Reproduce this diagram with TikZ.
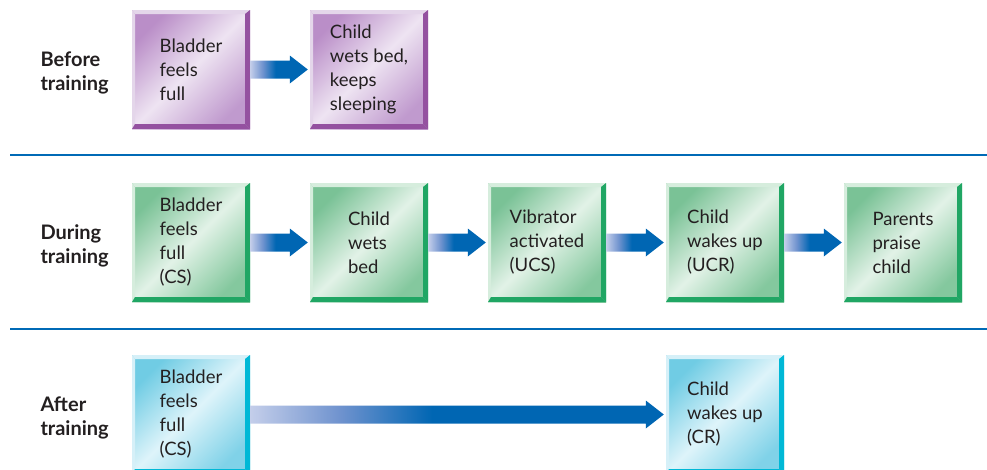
\documentclass[tikz,border=0pt]{standalone}
\usepackage{fontspec}
\setmainfont{Lato}
\usetikzlibrary{calc}

% text and rule colours
\definecolor{ink}{RGB}{35,31,32}
\definecolor{ruleblue}{RGB}{0,106,182}
% arrow colours
\definecolor{fadestart}{RGB}{196,206,234}
\definecolor{fademid}{RGB}{110,146,206}
\definecolor{arrowblue}{RGB}{0,102,179}
% purple boxes
\definecolor{pA}{RGB}{186,142,200}
\definecolor{pM}{RGB}{238,228,242}
\definecolor{pC}{RGB}{192,154,206}
\definecolor{pL}{RGB}{228,214,234}
\definecolor{pD}{RGB}{148,81,160}
% green boxes
\definecolor{gA}{RGB}{122,194,150}
\definecolor{gM}{RGB}{226,242,231}
\definecolor{gC}{RGB}{132,200,158}
\definecolor{gL}{RGB}{214,237,221}
\definecolor{gD}{RGB}{32,166,100}
% cyan boxes
\definecolor{cA}{RGB}{112,204,228}
\definecolor{cM}{RGB}{222,244,250}
\definecolor{cC}{RGB}{128,210,232}
\definecolor{cL}{RGB}{214,240,248}
\definecolor{cD}{RGB}{0,184,214}

% arrow body: light at the tail, full blue from about the middle on
\pgfdeclarehorizontalshading{arrowfade}{100bp}{%
  color(0bp)=(fadestart); color(25bp)=(fadestart);
  color(36bp)=(fademid); color(47bp)=(arrowblue); color(100bp)=(arrowblue)}

% light top/left frame and dark bottom/right bevel of a box
\newcommand\bevelframe[2]{%
  \fill[#1] (path picture bounding box.north west)
    -- (path picture bounding box.north east)
    -- ([xshift=-5pt,yshift=-4pt]path picture bounding box.north east)
    -- ([xshift=3pt,yshift=-4pt]path picture bounding box.north west) -- cycle;
  \fill[#1] (path picture bounding box.north west)
    -- ([xshift=3pt,yshift=-4pt]path picture bounding box.north west)
    -- ([xshift=3pt,yshift=5pt]path picture bounding box.south west)
    -- (path picture bounding box.south west) -- cycle;
  \fill[#2] (path picture bounding box.north east)
    -- (path picture bounding box.south east)
    -- ([xshift=-5pt,yshift=5pt]path picture bounding box.south east)
    -- ([xshift=-5pt,yshift=-4pt]path picture bounding box.north east) -- cycle;
  \fill[#2] (path picture bounding box.south west)
    -- ([xshift=3pt,yshift=5pt]path picture bounding box.south west)
    -- ([xshift=-5pt,yshift=5pt]path picture bounding box.south east)
    -- (path picture bounding box.south east) -- cycle;
}

% block arrow from the right side of one box to the left side of the next
\newcommand\flowarrow[2]{%
  \shade[shading=arrowfade]
    ([yshift=9pt]#1.east) -- ([xshift=-20pt,yshift=9pt]#2.west)
    -- ([xshift=-20pt,yshift=14pt]#2.west) -- ([xshift=-2pt]#2.west)
    -- ([xshift=-20pt,yshift=-14pt]#2.west) -- ([xshift=-20pt,yshift=-9pt]#2.west)
    -- ([yshift=-9pt]#1.east) -- cycle;
}

\tikzset{
  stagebox/.style={minimum width=118pt, minimum height=119pt, inner sep=0pt,
    align=left, text=ink, font=\fontsize{18.5pt}{24pt}\selectfont},
  purplebox/.style={stagebox, left color=pA, right color=pC, middle color=pM,
    shading angle=45, path picture={\bevelframe{pL}{pD}}},
  greenbox/.style={stagebox, left color=gA, right color=gC, middle color=gM,
    shading angle=45, path picture={\bevelframe{gL}{gD}}},
  cyanbox/.style={stagebox, left color=cA, right color=cC, middle color=cM,
    shading angle=45, path picture={\bevelframe{cL}{cD}}},
  phase/.style={anchor=west, align=left, text=ink,
    font=\fontsize{20pt}{24pt}\selectfont\bfseries},
  sepline/.style={draw=ruleblue, line width=2pt}
}

\begin{document}
\begin{tikzpicture}[x=1pt, y=-1pt]
  \useasboundingbox (0,0) rectangle (987,469);

  % phase labels
  \node[phase] (lblbefore) at (37,73)  {Before\\training};
  \node[phase] (lblduring) at (37,246) {During\\training};
  \node[phase] (lblafter)  at (37,418) {After\\training};

  % separators
  \draw[sepline] (10,155) -- (987,155);
  \draw[sepline] (10,329) -- (987,329);

  % before training
  \node[purplebox] (b1) at (191,69.5) {Bladder\\feels\\full};
  \node[purplebox] (b2) at (369,69.5) {Child\\wets bed,\\keeps\\sleeping};
  \flowarrow{b1}{b2}

  % during training
  \node[greenbox] (d1) at (191,242.5) {Bladder\\feels\\full\\(CS)};
  \node[greenbox] (d2) at (369,242.5) {Child\\wets\\bed};
  \node[greenbox] (d3) at (547,242.5) {Vibrator\\activated\\(UCS)};
  \node[greenbox] (d4) at (725,242.5) {Child\\wakes up\\(UCR)};
  \node[greenbox] (d5) at (903,242.5) {Parents\\praise\\child};
  \flowarrow{d1}{d2}
  \flowarrow{d2}{d3}
  \flowarrow{d3}{d4}
  \flowarrow{d4}{d5}

  % after training
  \node[cyanbox] (a1) at (191,414.5) {Bladder\\feels\\full\\(CS)};
  \node[cyanbox] (a2) at (725,414.5) {Child\\wakes up\\(CR)};
  \flowarrow{a1}{a2}
\end{tikzpicture}
\end{document}
